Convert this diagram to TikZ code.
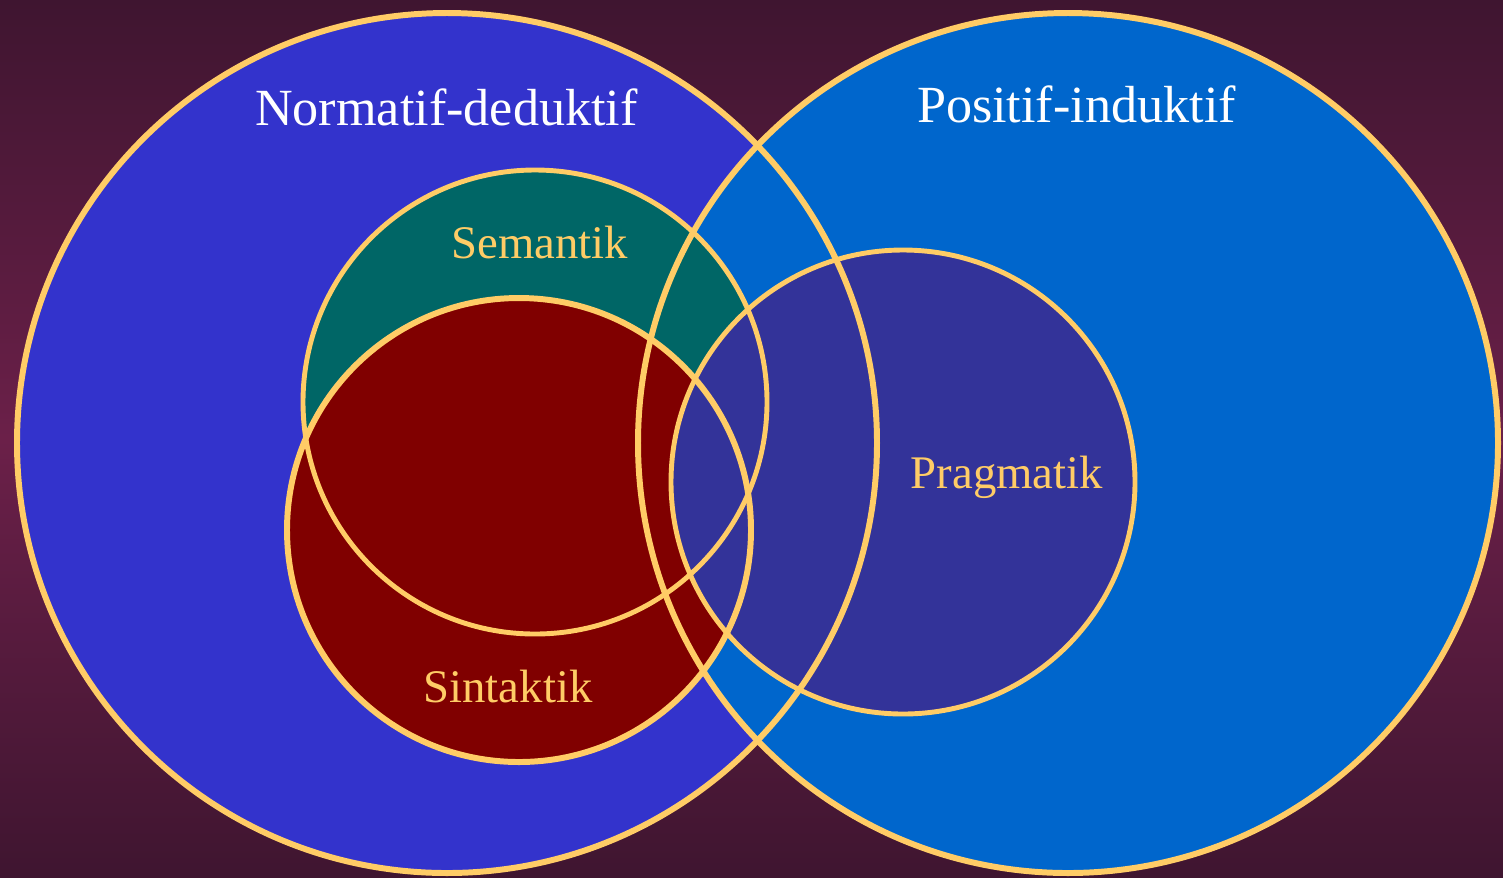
\documentclass[tikz,border=0pt]{standalone}
\usepackage{fontspec}
\setmainfont{Liberation Serif}

\definecolor{bgdark}{HTML}{3F1530}
\definecolor{bgmid}{HTML}{6B2049}
\definecolor{rimcol}{HTML}{FFCC66}
\definecolor{normcol}{HTML}{3333CC}
\definecolor{poscol}{HTML}{0066CC}
\definecolor{semcol}{HTML}{006666}
\definecolor{sincol}{HTML}{800000}
\definecolor{pragcol}{HTML}{333399}

\tikzset{
    rim/.style={draw=rimcol, line width=#1},
    rim/.default=2.8pt,
    biglabel/.style={text=white, anchor=base, font=\fontsize{29.7}{34}\selectfont},
    smalllabel/.style={text=rimcol, anchor=base, font=\fontsize{26.6}{30}\selectfont}
}

\begin{document}
\begin{tikzpicture}[x=0.02cm, y=-0.02cm, line join = round, line cap = round]
    \pgfmathsetmacro{\bigr}{430}
    \pgfmathsetmacro{\smallr}{232}
    \coordinate (N) at (447,443);
    \coordinate (P) at (1068,443);
    \coordinate (Se) at (535,402);
    \coordinate (Si) at (519,530);
    \coordinate (Pr) at (903,482);

    % background
    \useasboundingbox (0,0) rectangle (1503,877);
    \shade[top color=bgdark, bottom color=bgdark, middle color=bgmid] (0,0) rectangle (1503,877);

    % fills, back to front
    \fill[normcol] (N) circle (\bigr);
    \fill[poscol] (P) circle (\bigr);
    \fill[semcol] (Se) circle (\smallr);
    \fill[sincol] (Si) circle (\smallr);
    \fill[pragcol] (Pr) circle (\smallr);

    % outlines on top of all fills
    \draw[rim=3.4pt] (N) circle (\bigr);
    \draw[rim=3.4pt] (P) circle (\bigr);
    \draw[rim] (Se) circle (\smallr);
    \draw[rim=3.4pt] (Si) circle (\smallr);
    \draw[rim] (Pr) circle (\smallr);

    \node[biglabel] (norm) at (446.5,125) {Normatif-deduktif};
    \node[biglabel] (pos) at (1076.5,122) {Positif-induktif};
    \node[smalllabel] (sem) at (540,258) {Semantik};
    \node[smalllabel] (sin) at (508,702) {Sintaktik};
    \node[smalllabel] (prag) at (1007,488) {Pragmatik};
\end{tikzpicture}
\end{document}
